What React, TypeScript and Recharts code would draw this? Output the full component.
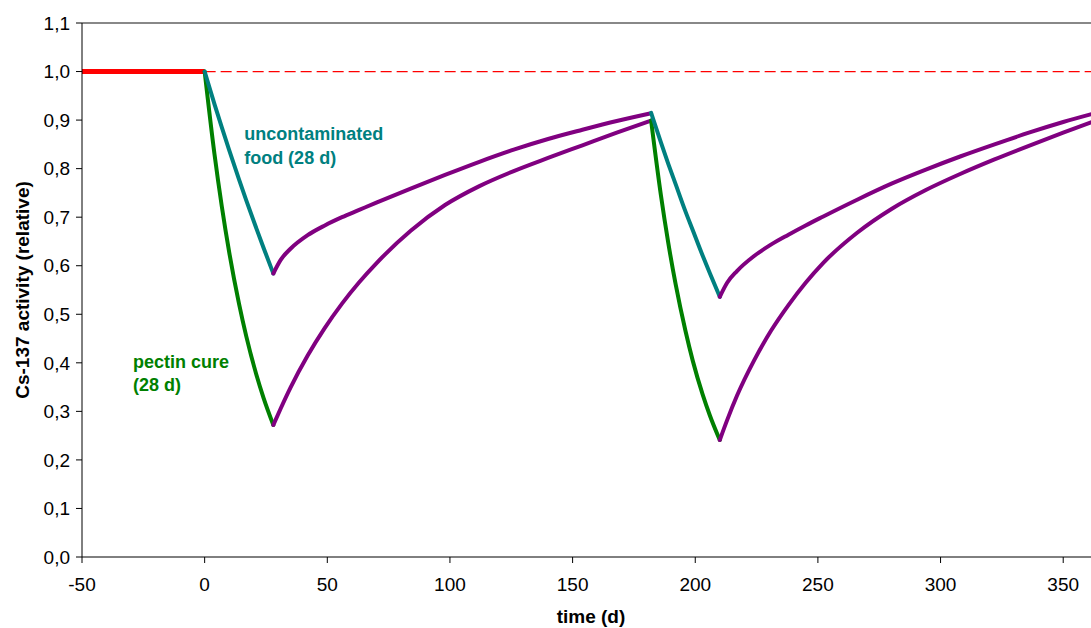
import React from "react";
import {
  LineChart,
  Line,
  XAxis,
  YAxis,
  ReferenceLine,
  ReferenceDot,
} from "recharts";

const FONT = '"Liberation Sans", Arial, sans-serif';

// tick labels
const xTicks = [-50, 0, 50, 100, 150, 200, 250, 300, 350];
const yTicks = [0, 0.1, 0.2, 0.3, 0.4, 0.5, 0.6, 0.7, 0.8, 0.9, 1.0, 1.1];

// before any cure
const baselineDays = [-50, 0];
const baselineValues = [1.0, 1.0];

// first cure (28 d)
const cure1Days = [0, 4, 7, 10, 14, 17, 21, 24, 28];
const foodCure1 = [1.0, 0.933, 0.885, 0.838, 0.778, 0.734, 0.678, 0.637, 0.584];
const pectinCure1 = [1.0, 0.83, 0.722, 0.628, 0.522, 0.454, 0.377, 0.328, 0.272];

// recovery after first cure
const recovery1Days = [28, 31, 35, 42, 49, 56, 63, 70, 84, 98, 112, 126, 140, 154, 168, 182];
const foodRecovery1 = [0.584, 0.612, 0.635, 0.663, 0.683, 0.7, 0.715, 0.73, 0.759, 0.787, 0.814, 0.839, 0.861, 0.88, 0.898, 0.914];
const pectinRecovery1 = [0.272, 0.306, 0.349, 0.415, 0.472, 0.522, 0.566, 0.605, 0.672, 0.725, 0.764, 0.795, 0.822, 0.848, 0.874, 0.899];

// second cure (28 d)
const cure2Days = [182, 186, 189, 192, 196, 199, 203, 206, 210];
const foodCure2 = [0.915, 0.854, 0.81, 0.768, 0.712, 0.673, 0.621, 0.584, 0.536];
const pectinCure2 = [0.899, 0.745, 0.647, 0.562, 0.466, 0.404, 0.335, 0.291, 0.241];

// recovery after second cure
const recovery2Days = [210, 213, 217, 224, 231, 238, 245, 252, 266, 280, 294, 308, 322, 336, 350, 365];
const foodRecovery2 = [0.536, 0.565, 0.589, 0.62, 0.644, 0.664, 0.683, 0.701, 0.736, 0.769, 0.798, 0.825, 0.85, 0.874, 0.896, 0.917];
const pectinRecovery2 = [0.241, 0.282, 0.332, 0.405, 0.467, 0.519, 0.565, 0.605, 0.668, 0.717, 0.756, 0.789, 0.819, 0.847, 0.874, 0.902];

const toPoints = (days: number[], values: number[]) =>
  days.map((t, i) => ({ t, v: values[i] }));

const RED = "#ff0000";
const TEAL = "#008080";
const GREEN = "#008000";
const PURPLE = "#800080";

const lineProps = {
  dataKey: "v",
  type: "monotone" as const,
  dot: false,
  activeDot: false,
  strokeWidth: 4,
  strokeLinecap: "round" as const,
  strokeLinejoin: "round" as const,
  isAnimationActive: false,
};

const YTitle = (props: any) => {
  const { viewBox } = props;
  const x = viewBox.x + 22;
  const y = viewBox.y + viewBox.height / 2;
  return (
    <text
      x={x}
      y={y}
      transform={`rotate(-90, ${x}, ${y})`}
      textAnchor="middle"
      dominantBaseline="central"
      fontFamily={FONT}
      fontSize={19}
      fontWeight="bold"
      fill="#000"
    >
      Cs-137 activity (relative)
    </text>
  );
};

const XTitle = (props: any) => {
  const { viewBox } = props;
  return (
    <text
      x={viewBox.x + viewBox.width / 2}
      y={viewBox.y + 59}
      textAnchor="middle"
      dominantBaseline="central"
      fontFamily={FONT}
      fontSize={19}
      fontWeight="bold"
      fill="#000"
    >
      time (d)
    </text>
  );
};

const note = (value: string, color: string) => ({
  value,
  position: "right" as const,
  offset: 0,
  fill: color,
  fontSize: 18,
  fontWeight: "bold",
  fontFamily: FONT,
});

export default function App() {
  return (
    <div
      style={{
        position: "absolute",
        left: 0,
        top: 0,
        width: 1091,
        height: 628,
        overflow: "hidden",
        background: "#fff",
      }}
    >
      <LineChart
        width={1100}
        height={628}
        margin={{ top: 23, right: 0, bottom: 0, left: 0 }}
      >
        <XAxis
          dataKey="t"
          type="number"
          domain={[-50, 365]}
          ticks={xTicks}
          allowDataOverflow
          height={71}
          tickSize={6}
          tickMargin={15}
          axisLine={{ stroke: "#000" }}
          tickLine={{ stroke: "#000" }}
          tick={{ fill: "#000", fontSize: 19, fontFamily: FONT }}
          label={{ content: XTitle }}
        />
        <YAxis
          type="number"
          domain={[0, 1.1]}
          ticks={yTicks}
          width={82}
          tickSize={6}
          tickMargin={6}
          axisLine={{ stroke: "#000" }}
          tickLine={{ stroke: "#000" }}
          tick={{ fill: "#000", fontSize: 19, fontFamily: FONT }}
          tickFormatter={(v: number) => v.toFixed(1).replace(".", ",")}
          label={{ content: YTitle }}
        />
        <ReferenceLine y={1.1} stroke="#888" strokeWidth={2} ifOverflow="visible" />
        <ReferenceLine
          segment={[
            { x: 0, y: 1 },
            { x: 365, y: 1 },
          ]}
          stroke={RED}
          strokeWidth={1.2}
          strokeDasharray="11 5"
        />

        <Line {...lineProps} data={toPoints(baselineDays, baselineValues)} stroke={RED} strokeWidth={5} strokeLinecap="butt" />

        <Line {...lineProps} data={toPoints(cure1Days, pectinCure1)} stroke={GREEN} />
        <Line {...lineProps} data={toPoints(cure1Days, foodCure1)} stroke={TEAL} />
        <Line {...lineProps} data={toPoints(recovery1Days, pectinRecovery1)} stroke={PURPLE} />
        <Line {...lineProps} data={toPoints(recovery1Days, foodRecovery1)} stroke={PURPLE} />

        <Line {...lineProps} data={toPoints(cure2Days, pectinCure2)} stroke={GREEN} />
        <Line {...lineProps} data={toPoints(cure2Days, foodCure2)} stroke={TEAL} />
        <Line {...lineProps} data={toPoints(recovery2Days, pectinRecovery2)} stroke={PURPLE} />
        <Line {...lineProps} data={toPoints(recovery2Days, foodRecovery2)} stroke={PURPLE} />

        <ReferenceDot x={16.1} y={0.872} r={0} fill="none" stroke="none" label={note("uncontaminated", TEAL)} />
        <ReferenceDot x={16.1} y={0.823} r={0} fill="none" stroke="none" label={note("food (28 d)", TEAL)} />
        <ReferenceDot x={-29.2} y={0.403} r={0} fill="none" stroke="none" label={note("pectin cure", GREEN)} />
        <ReferenceDot x={-29.2} y={0.356} r={0} fill="none" stroke="none" label={note("(28 d)", GREEN)} />
      </LineChart>
    </div>
  );
}
